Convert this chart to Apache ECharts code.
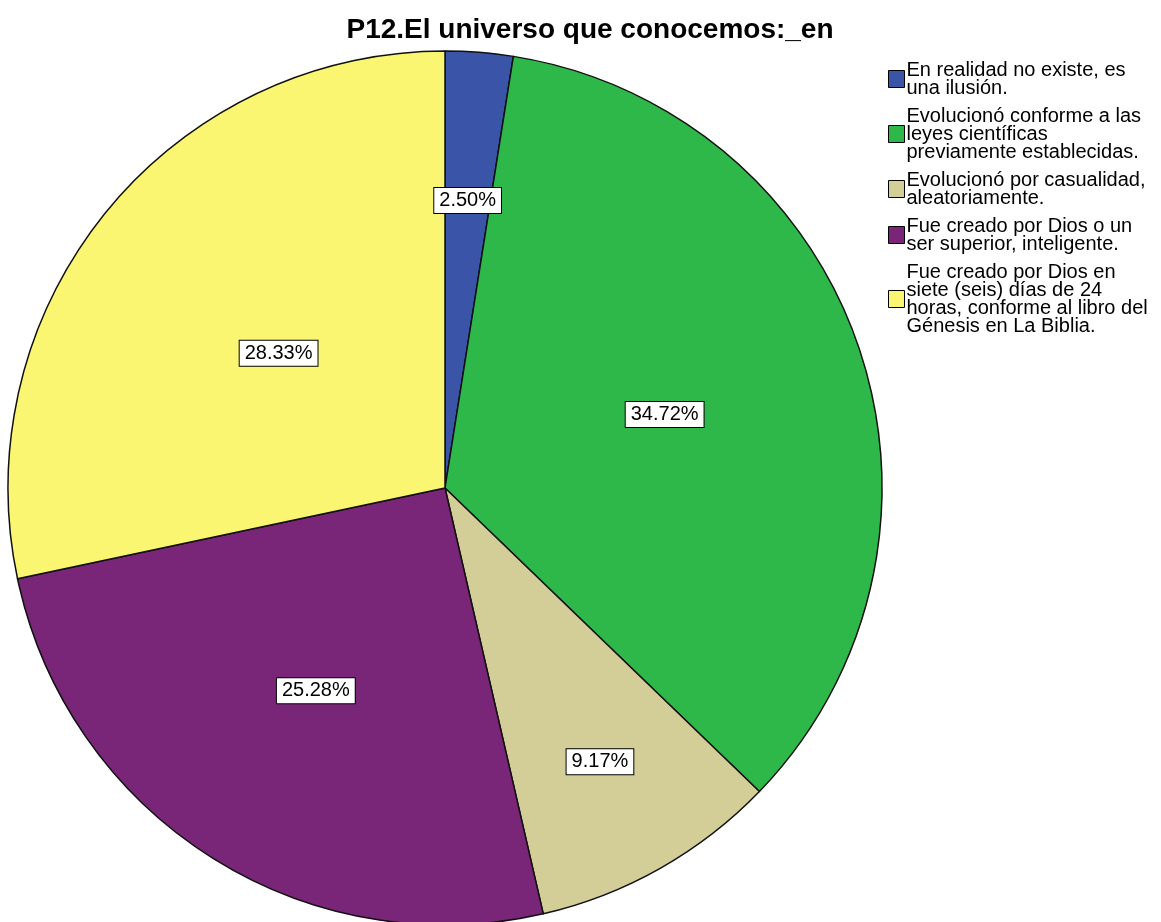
<!DOCTYPE html>
<html>
<head>
<meta charset="utf-8">
<script src="https://cdn.jsdelivr.net/npm/echarts@6/dist/echarts.min.js"></script>
<style>
html, body { margin: 0; padding: 0; background: #fff; }
#chart { width: 1161px; height: 922px; }
</style>
</head>
<body>
<div id="chart"></div>
<script>
var categories = [
    'En realidad no existe, es\nuna ilusión.',
    'Evolucionó conforme a las\nleyes científicas\npreviamente establecidas.',
    'Evolucionó por casualidad,\naleatoriamente.',
    'Fue creado por Dios o un\nser superior, inteligente.',
    'Fue creado por Dios en\nsiete (seis) días de 24\nhoras, conforme al libro del\nGénesis en La Biblia.'
];
var percents = [2.50, 34.72, 9.17, 25.28, 28.33];
var colors = ['#3A55A8', '#2EB84A', '#D3CD98', '#7A2678', '#FBF672'];
// how far out (fraction of radius) each label sits
var labelDist = [0.66, 0.53, 0.72, 0.55, 0.49];

var cx = 445, cy = 488, r = 437;
var total = percents.reduce(function (a, b) { return a + b; }, 0);

function labelPos(i) {
    var before = 0;
    for (var k = 0; k < i; k++) before += percents[k];
    var mid = (before + percents[i] / 2) / total * Math.PI * 2;
    var d = labelDist[i] * r;
    return { x: cx + d * Math.sin(mid), y: cy - d * Math.cos(mid) };
}

var chart = echarts.init(document.getElementById('chart'));
chart.setOption({
    animation: false,
    title: {
        text: 'P12.El universo que conocemos:_en',
        left: 585,
        top: 11,
        textAlign: 'center',
        textStyle: { fontFamily: 'Arial, Liberation Sans', fontSize: 28, fontWeight: 'bold', color: '#000' }
    },
    legend: {
        orient: 'vertical',
        left: 883,
        top: 55,
        itemGap: 8,
        itemWidth: 16,
        itemHeight: 17,
        icon: 'rect',
        itemStyle: { borderColor: '#000', borderWidth: 1 },
        textStyle: { fontFamily: 'Arial, Liberation Sans', fontSize: 20, lineHeight: 18, color: '#000', padding: [0, 0, 0, -3] },
        data: categories
    },
    series: [{
        type: 'pie',
        center: [cx, cy],
        radius: [0, r],
        startAngle: 90,
        clockwise: true,
        color: colors,
        itemStyle: { borderColor: '#111', borderWidth: 1.5 },
        label: {
            position: 'inside',
            formatter: function (p) { return percents[p.dataIndex].toFixed(2) + '%'; },
            fontFamily: 'Arial, Liberation Sans',
            fontSize: 20,
            lineHeight: 20,
            color: '#000',
            backgroundColor: '#fff',
            borderColor: '#000',
            borderWidth: 1,
            padding: [3, 5, 2, 5]
        },
        labelLayout: function (params) {
            var p = labelPos(params.dataIndex);
            return { x: p.x, y: p.y, align: 'center', verticalAlign: 'middle' };
        },
        emphasis: { disabled: true },
        data: categories.map(function (c, i) { return { name: c, value: percents[i] }; })
    }]
});
</script>
</body>
</html>
